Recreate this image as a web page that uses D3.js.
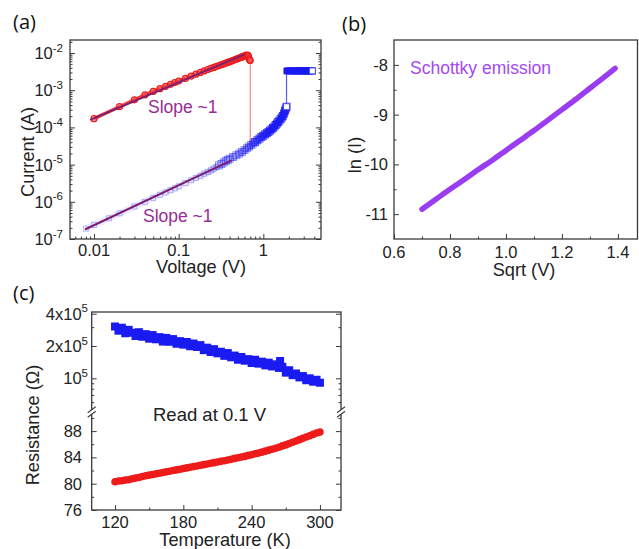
<!DOCTYPE html>
<html>
<head>
<meta charset="utf-8">
<script src="https://cdn.jsdelivr.net/npm/d3@7"></script>
<style>
  body { margin: 0; background: #fff; }
  svg { display: block; font-family: "Liberation Sans", Arial, sans-serif; }
</style>
</head>
<body>
<svg id="fig" width="639" height="549"></svg>
<script>
// ---------- (a) current–voltage sweeps ----------
const lrsVoltage = [0.01,0.02,0.03,0.04,0.05,0.06,0.07,0.08,0.09,0.10,
  0.12,0.14,0.16,0.18,0.20,0.22,0.24,0.26,0.28,0.30,
  0.32,0.34,0.36,0.38,0.40,0.42,0.44,0.46,0.48,0.50,
  0.52,0.54,0.56,0.58,0.60,0.62,0.64,0.66,0.67,0.68,0.69,0.70];
const lrsCurrent = [1.72e-4,3.6e-4,5.5e-4,7.5e-4,9.3e-4,1.1e-3,1.27e-3,1.44e-3,1.6e-3,1.76e-3,
  2.08e-3,2.4e-3,2.7e-3,3.0e-3,3.3e-3,3.6e-3,3.85e-3,4.1e-3,4.35e-3,4.6e-3,
  4.85e-3,5.1e-3,5.35e-3,5.6e-3,5.85e-3,6.1e-3,6.35e-3,6.6e-3,6.85e-3,7.1e-3,
  7.35e-3,7.6e-3,7.85e-3,8.1e-3,8.35e-3,8.6e-3,8.8e-3,8.6e-3,7.8e-3,7.0e-3,6.5e-3,6.3e-3];

const hrsVoltage = [0.008,0.01,0.015,0.02,0.03,0.04,0.05,0.06,0.07,0.08,0.09,0.10,
  0.12,0.14,0.16,0.18,0.20,0.22,0.24,0.26,0.28,0.30,0.32,0.34,0.36,0.38,0.40,
  0.44,0.48,0.52,0.56,0.60,0.64,0.68,0.72,0.76,0.80,
  0.85,0.90,0.95,1.00,1.05,1.10,1.15,1.20,1.25,1.30,1.35,1.40,1.45,1.50,1.55,1.60,1.65,1.70,1.75,1.80,
  1.84,1.88];
const hrsCurrent = [1.9e-7,2.4e-7,3.6e-7,4.9e-7,7.5e-7,1.0e-6,1.28e-6,1.55e-6,1.8e-6,2.05e-6,2.3e-6,2.6e-6,
  3.2e-6,3.8e-6,4.4e-6,5.0e-6,5.7e-6,6.3e-6,7.0e-6,7.8e-6,8.6e-6,9.5e-6,1.04e-5,1.14e-5,1.24e-5,1.34e-5,1.44e-5,
  1.6e-5,1.78e-5,1.98e-5,2.2e-5,2.45e-5,2.75e-5,3.05e-5,3.35e-5,3.7e-5,4.05e-5,
  4.5e-5,5.0e-5,5.5e-5,6.0e-5,6.5e-5,7.0e-5,7.6e-5,8.2e-5,8.9e-5,9.7e-5,1.06e-4,1.16e-4,1.27e-4,1.39e-4,1.52e-4,1.67e-4,1.85e-4,2.05e-4,2.35e-4,2.75e-4,
  3.2e-4,3.6e-4];

// compliance plateau after SET
const compVoltage = [1.9,2.0,2.1,2.2,2.3,2.4,2.5,2.6,2.7,2.8,2.9,3.0,3.1,3.2,3.3,3.4,3.5,3.6,3.7,3.8];
const compCurrent = [3.3e-3,3.3e-3,3.3e-3,3.3e-3,3.3e-3,3.3e-3,3.3e-3,3.3e-3,3.3e-3,3.3e-3,
  3.3e-3,3.3e-3,3.3e-3,3.3e-3,3.3e-3,3.3e-3,3.3e-3,3.3e-3,3.3e-3,3.3e-3];

// RESET and SET jumps
const resetVoltage = [0.70, 0.70];
const resetCurrent = [6.3e-3, 3.3e-5];
const setVoltage = [1.88, 1.88];
const setCurrent = [3.6e-4, 3.3e-3];

// linear (slope ~1) fits on log–log axes
const fitLrsVoltage = [0.009, 0.6];
const fitLrsCurrent = [1.6e-4, 9.2e-3];
const fitHrsVoltage = [0.0078, 0.42];
const fitHrsCurrent = [1.8e-7, 1.3e-5];

const ivXTicks = [0.01, 0.1, 1];
const ivXTickLabels = ["0.01", "0.1", "1"];
const ivYTicks = [1e-7, 1e-6, 1e-5, 1e-4, 1e-3, 1e-2];
const ivYTickExponents = ["-7", "-6", "-5", "-4", "-3", "-2"];

// ---------- (b) Schottky plot ----------
const sqrtVoltage = [0.70,0.75,0.80,0.85,0.90,0.95,1.00,1.05,1.10,1.15,1.20,1.25,1.30,1.35,1.39];
const lnCurrent = [-10.90,-10.70,-10.50,-10.31,-10.11,-9.92,-9.72,-9.52,-9.32,-9.11,-8.90,-8.69,-8.47,-8.25,-8.07];
const schXTicks = [0.6, 0.8, 1.0, 1.2, 1.4];
const schXTickLabels = ["0.6", "0.8", "1.0", "1.2", "1.4"];
const schYTicks = [-8, -9, -10, -11];
const schYTickLabels = ["-8", "-9", "-10", "-11"];

// ---------- (c) resistance vs temperature ----------
const hrsTemp = [120,123,126,129,132,135,138,141,144,147,150,153,156,159,162,165,168,171,174,177,
  180,183,186,189,192,195,198,201,204,207,210,213,216,219,222,225,228,231,234,237,
  240,243,246,249,252,255,258,261,264,265,267,270,273,276,279,282,285,288,291,294,297,300];
const hrsRes = [3.04e5,2.78e5,2.96e5,2.63e5,2.83e5,2.66e5,2.48e5,2.69e5,2.44e5,2.58e5,
  2.34e5,2.53e5,2.31e5,2.42e5,2.20e5,2.38e5,2.19e5,2.32e5,2.10e5,2.22e5,
  2.06e5,2.18e5,1.99e5,2.11e5,1.96e5,2.04e5,1.83e5,1.93e5,1.76e5,1.87e5,
  1.71e5,1.77e5,1.62e5,1.72e5,1.57e5,1.63e5,1.49e5,1.58e5,1.46e5,1.51e5,
  1.39e5,1.49e5,1.37e5,1.43e5,1.32e5,1.40e5,1.29e5,1.35e5,1.25e5,1.45e5,
  1.28e5,1.13e5,1.19e5,1.07e5,1.11e5,1.02e5,1.05e5,0.96e5,1.00e5,0.93e5,0.97e5,0.91e5];
const lrsTemp = [120,123,126,129,132,135,138,141,144,147,150,153,156,159,162,165,168,171,174,177,
  180,183,186,189,192,195,198,201,204,207,210,213,216,219,222,225,228,231,234,237,
  240,243,246,249,252,255,258,261,264,267,270,273,276,279,282,285,288,291,294,297,300];
const lrsRes = [80.3,80.4,80.45,80.55,80.6,80.75,80.85,80.95,81.1,81.2,
  81.3,81.4,81.5,81.6,81.7,81.8,81.9,82.0,82.1,82.2,
  82.3,82.4,82.5,82.6,82.7,82.8,82.9,83.0,83.1,83.2,
  83.3,83.4,83.5,83.6,83.7,83.85,83.95,84.05,84.15,84.3,
  84.4,84.55,84.65,84.8,84.95,85.1,85.25,85.4,85.55,85.75,
  85.9,86.1,86.3,86.5,86.7,86.9,87.1,87.3,87.5,87.7,87.85];
const tempTicks = [120, 180, 240, 300];
const tempMinorTicks = [150, 210, 270];
const hrsResTicks = [1e5, 2e5, 4e5];
const hrsResTickBases = ["10", "2x10", "4x10"];
const hrsResTickExponents = ["5", "5", "5"];
const hrsResMinorTicks = [6e4, 7e4, 8e4, 9e4, 3e5];
const lrsResTicks = [76, 80, 84, 88];
const lrsResMinorTicks = [78, 82, 86, 90];

// ---------- styling ----------
const AXIS = "#3a3a3a";
const TEXT = "#222";
const RED = "#ee1b1b";
const BLUE = "#1a1af2";
const FIT = "#7d1d72";
const FIT_TEXT = "#962d96";
const VIOLET = "#9a3cf0";
const TICK_FONT = 16.5;
const TITLE_FONT = 18.2;

const svg = d3.select("#fig");
const defs = svg.append("defs");

function tickAxis(g, scale, orient, vals, len, pos) {
  const maker = { bottom: d3.axisBottom, top: d3.axisTop, left: d3.axisLeft, right: d3.axisRight }[orient];
  const ax = maker(scale).tickValues(vals).tickSize(-len).tickSizeOuter(0).tickFormat("");
  const tr = (orient === "bottom" || orient === "top") ? `translate(0,${pos})` : `translate(${pos},0)`;
  const gg = g.append("g").attr("transform", tr).call(ax);
  gg.select(".domain").remove();
  gg.selectAll("line").attr("stroke", AXIS).attr("stroke-width", 1);
  return gg;
}

function frame(g, x0, y0, x1, y1) {
  g.append("rect").attr("x", x0).attr("y", y0).attr("width", x1 - x0).attr("height", y1 - y0)
    .attr("fill", "none").attr("stroke", AXIS).attr("stroke-width", 1.3);
}

function label(g, x, y, txt, opts = {}) {
  return g.append("text").attr("x", x).attr("y", y)
    .attr("text-anchor", opts.anchor || "middle")
    .attr("font-size", opts.size || TICK_FONT)
    .attr("fill", opts.color || TEXT)
    .text(txt);
}

function powLabel(g, x, y, base, exp, anchor) {
  const t = g.append("text").attr("x", x).attr("y", y).attr("text-anchor", anchor || "end")
    .attr("font-size", TICK_FONT).attr("fill", TEXT);
  t.append("tspan").text(base);
  t.append("tspan").attr("dy", -7.5).attr("font-size", 11.5).text(exp);
  return t;
}

function yTitle(g, x, y, txt) {
  g.append("text").attr("transform", `translate(${x},${y}) rotate(-90)`)
    .attr("text-anchor", "middle").attr("font-size", TITLE_FONT).attr("fill", TEXT).text(txt);
}

function panelTag(g, x, y, txt) {
  g.append("text").attr("x", x).attr("y", y).attr("font-size", 20)
    .attr("font-family", "'Open Sans', 'Liberation Sans', sans-serif").attr("fill", "#111").text(txt);
}

// =============== panel (a) ===============
{
  const L = 70, R = 321, T = 40, B = 239;
  const g = svg.append("g");
  const x = d3.scaleLog().domain([0.0052, 4.8]).range([L, R]);
  const y = d3.scaleLog().domain([1e-7, 10 ** -1.65]).range([B, T]);

  const clip = defs.append("clipPath").attr("id", "clipA");
  clip.append("rect").attr("x", L).attr("y", T).attr("width", R - L).attr("height", B - T);
  const plot = g.append("g").attr("clip-path", "url(#clipA)");

  const line = d3.line().x(d => x(d[0])).y(d => y(d[1]));

  // HRS band fades in as the sweep voltage rises
  const grad = defs.append("linearGradient").attr("id", "hrsBand")
    .attr("gradientUnits", "userSpaceOnUse")
    .attr("x1", x(0.15)).attr("x2", x(1.2)).attr("y1", 0).attr("y2", 0);
  grad.append("stop").attr("offset", 0).attr("stop-color", "#8080ff").attr("stop-opacity", 0.15);
  grad.append("stop").attr("offset", 0.55).attr("stop-color", "#4a4af6").attr("stop-opacity", 0.55);
  grad.append("stop").attr("offset", 1).attr("stop-color", BLUE).attr("stop-opacity", 0.95);

  // RESET drop
  plot.append("path").datum(d3.zip(resetVoltage, resetCurrent)).attr("d", line)
    .attr("stroke", "#f07070").attr("stroke-width", 1).attr("fill", "none");
  // SET jump
  plot.append("path").datum(d3.zip(setVoltage, setCurrent)).attr("d", line)
    .attr("stroke", "#5a5af5").attr("stroke-width", 1.2).attr("fill", "none");

  // HRS sweep
  plot.append("path").datum(d3.zip(hrsVoltage, hrsCurrent)).attr("d", line)
    .attr("stroke", "url(#hrsBand)").attr("stroke-width", 7).attr("fill", "none");
  plot.append("g").selectAll("rect").data(d3.zip(hrsVoltage, hrsCurrent)).join("rect")
    .attr("x", d => x(d[0]) - (d[0] < 0.3 ? 2.5 : 3.5)).attr("y", d => y(d[1]) - (d[0] < 0.3 ? 2.5 : 3.5))
    .attr("width", d => d[0] < 0.3 ? 5 : 7).attr("height", d => d[0] < 0.3 ? 5 : 7)
    .attr("fill", "none").attr("stroke", BLUE).attr("stroke-width", 0.8)
    .attr("stroke-opacity", d => d[0] < 0.3 ? 0.35 : (d[0] < 0.8 ? 0.6 : 0.95));
  plot.append("g").selectAll("rect").data(d3.zip(compVoltage, compCurrent)).join("rect")
    .attr("x", d => x(d[0]) - 3).attr("y", d => y(d[1]) - 3)
    .attr("width", 6).attr("height", 6)
    .attr("fill", BLUE).attr("stroke", BLUE).attr("stroke-width", 0.8);
  // sweep end points drawn open
  const ends = [[hrsVoltage[hrsVoltage.length - 1], hrsCurrent[hrsCurrent.length - 1]],
                [compVoltage[compVoltage.length - 1], compCurrent[compCurrent.length - 1]]];
  plot.append("g").selectAll("rect").data(ends).join("rect")
    .attr("x", d => x(d[0]) - 3).attr("y", d => y(d[1]) - 3)
    .attr("width", 6).attr("height", 6)
    .attr("fill", "#fff").attr("stroke", "#4848f4").attr("stroke-width", 1);

  // LRS sweep
  plot.append("path").datum(d3.zip(lrsVoltage, lrsCurrent)).attr("d", line)
    .attr("stroke", RED).attr("stroke-width", 3.5).attr("stroke-opacity", 0.85).attr("fill", "none");
  plot.append("g").selectAll("circle").data(d3.zip(lrsVoltage, lrsCurrent)).join("circle")
    .attr("cx", d => x(d[0])).attr("cy", d => y(d[1])).attr("r", 3)
    .attr("fill", "rgba(255,90,90,0.45)").attr("stroke", RED).attr("stroke-width", 1.2);

  // fits
  plot.append("path").datum(d3.zip(fitLrsVoltage, fitLrsCurrent)).attr("d", line)
    .attr("stroke", FIT).attr("stroke-width", 2).attr("fill", "none");
  plot.append("path").datum(d3.zip(fitHrsVoltage, fitHrsCurrent)).attr("d", line)
    .attr("stroke", FIT).attr("stroke-width", 2).attr("fill", "none");

  // ticks
  const xMinor = x.ticks().filter(v => !ivXTicks.some(t => Math.abs(t - v) / t < 1e-6));
  const yMinor = y.ticks().filter(v => !ivYTicks.some(t => Math.abs(t - v) / t < 1e-6));
  tickAxis(g, x, "bottom", ivXTicks, 5, B);
  tickAxis(g, x, "bottom", xMinor, 2.5, B);
  tickAxis(g, y, "left", ivYTicks, 5, L);
  tickAxis(g, y, "left", yMinor, 2.5, L);
  tickAxis(g, y, "right", ivYTicks, 5, R);
  tickAxis(g, y, "right", yMinor, 2.5, R);
  frame(g, L, T, R, B);

  ivXTicks.forEach((v, i) => label(g, x(v), 255.5, ivXTickLabels[i]));
  ivYTicks.forEach((v, i) => powLabel(g, 63, y(v) + 6, "10", ivYTickExponents[i], "end"));

  label(g, 201, 273, "Voltage (V)", { size: TITLE_FONT });
  yTitle(g, 34, 152, "Current (A)");

  label(g, 148, 113, "Slope ~1", { size: 17.5, anchor: "start", color: FIT_TEXT });
  label(g, 143, 222, "Slope ~1", { size: 17.5, anchor: "start", color: FIT_TEXT });

  panelTag(svg, 13, 29, "(a)");
}

// =============== panel (b) ===============
{
  const L = 394, R = 637.5, T = 40, B = 239;
  const g = svg.append("g");
  const x = d3.scaleLinear().domain([0.6, 1.47]).range([L, R]);
  const y = d3.scaleLinear().domain([-11.5, -7.5]).range([B, T]);

  const line = d3.line().x(d => x(d[0])).y(d => y(d[1])).curve(d3.curveMonotoneX);
  g.append("path").datum(d3.zip(sqrtVoltage, lnCurrent)).attr("d", line)
    .attr("stroke", VIOLET).attr("stroke-width", 5.5).attr("stroke-linecap", "round")
    .attr("stroke-linejoin", "round").attr("fill", "none");

  const xMinor = schXTicks.slice(0, -1).map((v, i) => (v + schXTicks[i + 1]) / 2);
  const yMinor = schYTicks.slice(0, -1).map((v, i) => (v + schYTicks[i + 1]) / 2);
  tickAxis(g, x, "bottom", schXTicks, 5, B);
  tickAxis(g, x, "bottom", xMinor, 2.5, B);
  tickAxis(g, y, "left", schYTicks, 5, L);
  tickAxis(g, y, "left", yMinor, 2.5, L);
  frame(g, L, T, R, B);

  schXTicks.forEach((v, i) => label(g, x(v), 257.5, schXTickLabels[i]));
  schYTicks.forEach((v, i) => label(g, 388, y(v) + 6, schYTickLabels[i], { anchor: "end" }));

  label(g, 524, 276, "Sqrt (V)", { size: TITLE_FONT });
  yTitle(g, 361, 155, "ln (I)");

  label(g, 410, 74, "Schottky emission", { size: 17.5, anchor: "start", color: "#a548f2" });

  panelTag(svg, 342, 31, "(b)");
}

// =============== panel (c) ===============
{
  const L = 91.7, R = 341, T = 312, B = 510;
  const BREAK_TOP = 410, BREAK_BOT = 414;
  const g = svg.append("g");
  const x = d3.scaleLinear().domain([99.5, 318.5]).range([L, R]);
  const yHi = d3.scaleLog().domain([5.07e4, 4.15e5]).range([BREAK_TOP, T]);
  const yLo = d3.scaleLinear().domain([76, 90.6]).range([B, BREAK_BOT]);

  // HRS: filled squares
  const sq = 8;
  g.append("g").selectAll("rect").data(d3.zip(hrsTemp, hrsRes)).join("rect")
    .attr("x", d => x(d[0]) - sq / 2).attr("y", d => yHi(d[1]) - sq / 2)
    .attr("width", sq).attr("height", sq).attr("fill", BLUE);
  // LRS: filled circles
  g.append("g").selectAll("circle").data(d3.zip(lrsTemp, lrsRes)).join("circle")
    .attr("cx", d => x(d[0])).attr("cy", d => yLo(d[1])).attr("r", 3.8).attr("fill", RED);

  tickAxis(g, x, "bottom", tempTicks, 5, B);
  tickAxis(g, x, "bottom", tempMinorTicks, 2.5, B);
  [L, R].forEach(p => {
    const o = p === L ? "left" : "right";
    tickAxis(g, yHi, o, hrsResTicks, 5, p);
    tickAxis(g, yHi, o, hrsResMinorTicks, 2.5, p);
    tickAxis(g, yLo, o, lrsResTicks, 5, p);
    tickAxis(g, yLo, o, lrsResMinorTicks, 2.5, p);
  });
  frame(g, L, T, R, B);

  // axis break marks on both sides
  const yb = (BREAK_TOP + BREAK_BOT) / 2;
  [L, R].forEach(p => {
    g.append("rect").attr("x", p - 2).attr("y", yb - 2).attr("width", 4).attr("height", 4).attr("fill", "#fff");
    [-2.2, 2.2].forEach(off => {
      g.append("line").attr("x1", p - 4).attr("y1", yb + off + 3).attr("x2", p + 4).attr("y2", yb + off - 3)
        .attr("stroke", AXIS).attr("stroke-width", 1.1);
    });
  });

  tempTicks.forEach(v => label(g, x(v), 527.5, String(v)));
  lrsResTicks.forEach(v => label(g, 82, yLo(v) + 6, String(v), { anchor: "end" }));
  hrsResTicks.forEach((v, i) => powLabel(g, 88, yHi(v) + 6, hrsResTickBases[i], hrsResTickExponents[i], "end"));

  label(g, 225, 545.5, "Temperature (K)", { size: TITLE_FONT });
  yTitle(g, 39, 425, "Resistance (\u03A9)");
  label(g, 153, 421, "Read at 0.1 V", { size: 18.5, anchor: "start" });

  panelTag(svg, 13, 300, "(c)");
}
</script>
</body>
</html>
